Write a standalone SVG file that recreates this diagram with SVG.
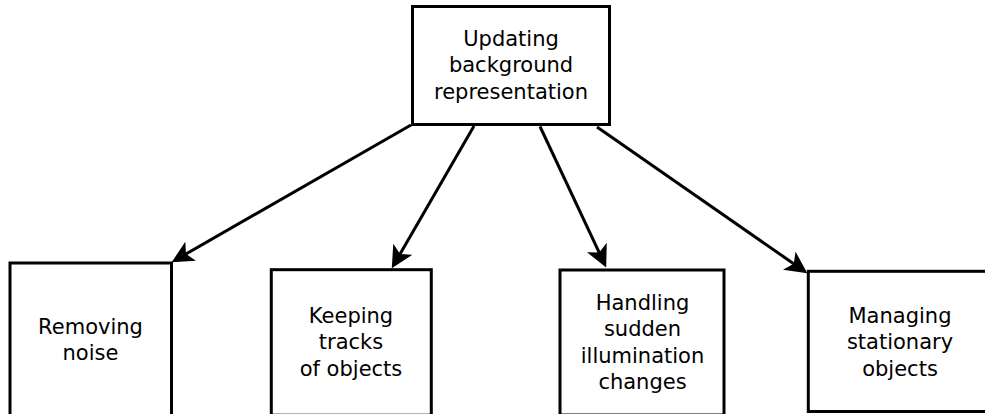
<svg xmlns="http://www.w3.org/2000/svg" width="985" height="414" viewBox="0 0 985 414">
<style>
.box{fill:#fff;stroke:#000;stroke-width:3}
.lbl{font-family:"DejaVu Sans",sans-serif;font-size:21px;fill:#000;text-anchor:middle}
.edge{stroke:#000;stroke-width:3;fill:none;marker-end:url(#ah)}
</style>
<defs>
<marker id="ah" viewBox="0 0 20 20" refX="16" refY="10" markerWidth="22" markerHeight="22" markerUnits="userSpaceOnUse" orient="auto">
<path d="M20,10 L0,0 L5,10 L0,20 Z" fill="#000"/>
</marker>
</defs>
<rect width="985" height="414" fill="#fff"/>
<g id="n-top">
<rect class="box" x="412.5" y="6.5" width="197" height="118"/>
<text class="lbl" x="511" y="45.5">Updating</text>
<text class="lbl" x="511" y="72">background</text>
<text class="lbl" x="511" y="98.5">representation</text>
</g>
<g id="n-noise">
<rect class="box" x="10" y="263" width="161.5" height="170"/>
<text class="lbl" x="90.5" y="333.5">Removing</text>
<text class="lbl" x="90.5" y="359.5">noise</text>
</g>
<g id="n-tracks">
<rect class="box" x="271.3" y="269.7" width="160" height="145.5"/>
<text class="lbl" x="351" y="322.5">Keeping</text>
<text class="lbl" x="351" y="349">tracks</text>
<text class="lbl" x="351" y="375.5">of objects</text>
</g>
<g id="n-illum">
<rect class="box" x="560" y="270" width="164" height="145"/>
<text class="lbl" x="642.5" y="309.5">Handling</text>
<text class="lbl" x="642.5" y="336">sudden</text>
<text class="lbl" x="642.5" y="362.5">illumination</text>
<text class="lbl" x="642.5" y="389">changes</text>
</g>
<g id="n-stationary">
<rect class="box" x="808.3" y="271.3" width="190" height="140.2"/>
<text class="lbl" x="900" y="322.5">Managing</text>
<text class="lbl" x="900" y="349">stationary</text>
<text class="lbl" x="900" y="375.5">objects</text>
</g>
<g id="connectors">
<line class="edge" x1="411" y1="125" x2="175.5" y2="260"/>
<line class="edge" x1="474" y1="126" x2="394" y2="264.5"/>
<line class="edge" x1="540" y1="126.5" x2="604.3" y2="263.4"/>
<line class="edge" x1="597" y1="127" x2="803.7" y2="270.7"/>
</g>
</svg>
